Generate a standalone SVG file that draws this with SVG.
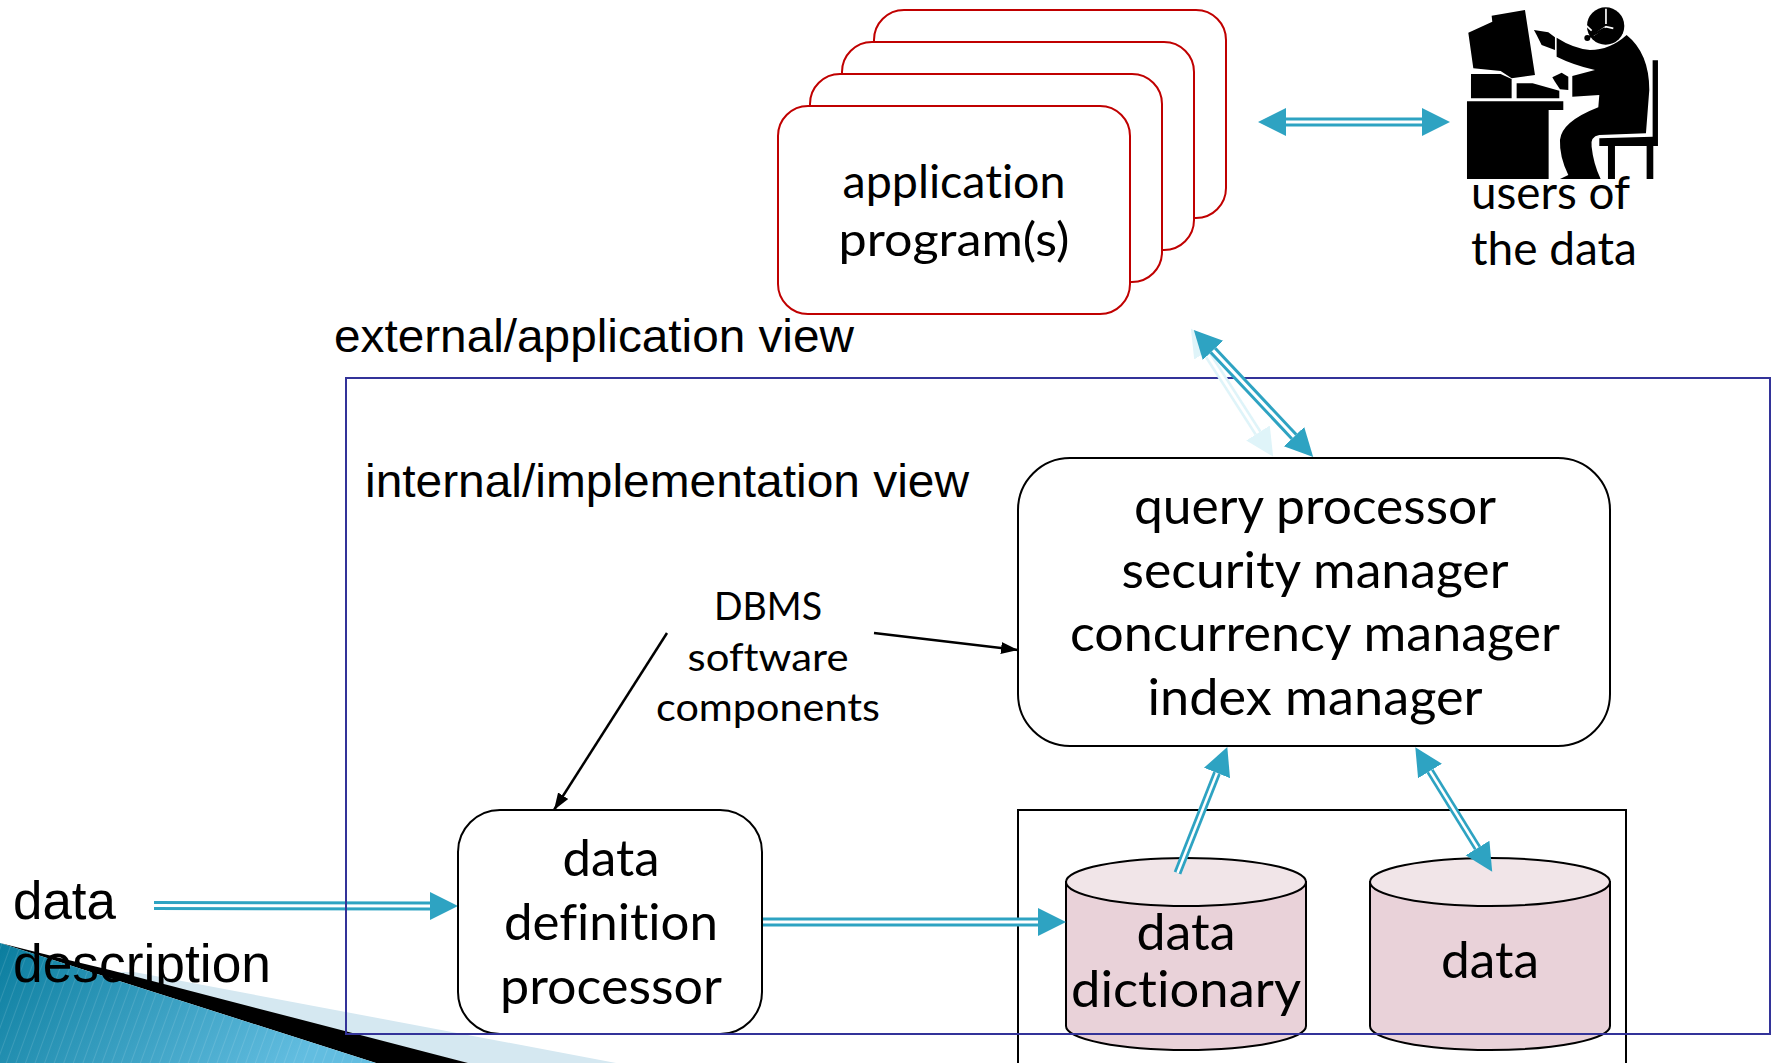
<svg xmlns="http://www.w3.org/2000/svg" width="1773" height="1063" viewBox="0 0 1773 1063">
<style>
text{font-variant-ligatures:none}
.t{font-family:"Lato","Open Sans",sans-serif;fill:#000;text-anchor:middle}
.s{font-family:"Liberation Sans",Arial,sans-serif;fill:#000}
.red{fill:#fff;stroke:#c00000;stroke-width:2}
.box{fill:#fff;stroke:#000;stroke-width:2}
.a{fill:none;stroke:#2ea3c2;stroke-width:9;marker-end:url(#h)}
.a2{marker-start:url(#h)}
.b{fill:none;stroke:#fff;stroke-width:3}
.thin{stroke-width:8}
.thinb{stroke-width:2.5}
.f{fill:#000}
</style>
<defs>
<marker id="h" markerUnits="userSpaceOnUse" markerWidth="30" markerHeight="30" viewBox="0 0 30 30" refX="0" refY="15" orient="auto-start-reverse"><path d="M0,1 L28,15 L0,29 Z" fill="#2ea3c2"/></marker>
<marker id="hf" markerUnits="userSpaceOnUse" markerWidth="30" markerHeight="30" viewBox="0 0 30 30" refX="0" refY="15" orient="auto-start-reverse"><path d="M0,1 L28,15 L0,29 Z" fill="#dff4f9"/></marker>
<marker id="k" markerUnits="userSpaceOnUse" markerWidth="18" markerHeight="14" viewBox="0 0 18 14" refX="17" refY="7" orient="auto"><path d="M0,1 L17,7 L0,13 Z" fill="#000"/></marker>
<linearGradient id="wg" x1="0" y1="0" x2="1" y2="0.3"><stop offset="0" stop-color="#0a7d9e"/><stop offset="1" stop-color="#62bde0"/></linearGradient>
<pattern id="st" width="9" height="9" patternUnits="userSpaceOnUse" patternTransform="rotate(20)"><rect width="1" height="9" fill="#ffffff" opacity=".12"/></pattern>
</defs>

<g id="background">
<path d="M90,972 L134,972 L616,1063 L468,1063 Z" fill="#d5e8f1"/>
<path d="M0,943 L60,958 L110,970 L468,1063 L376,1063 Z" fill="#000"/>
<path d="M0,943 L376,1063 L0,1063 Z" fill="url(#wg)"/>
<path d="M0,943 L376,1063 L0,1063 Z" fill="url(#st)"/>
</g>

<g id="apps">
<rect class="red" x="874" y="10" width="352" height="208" rx="30"/>
<rect class="red" x="842" y="42" width="352" height="208" rx="30"/>
<rect class="red" x="810" y="74" width="352" height="208" rx="30"/>
<rect class="red" x="778" y="106" width="352" height="208" rx="30"/>
<text class="t" font-size="47" x="954" y="198" textLength="223" lengthAdjust="spacingAndGlyphs">application</text>
<text class="t" font-size="47" x="954" y="256" textLength="231" lengthAdjust="spacingAndGlyphs">program(s)</text>
</g>

<g id="user">
<g transform="translate(1240 0) scale(.3333)">
<path class="f" d="M755,47 L855,30 L885,225 L815,235 L782,213 L700,205 L685,98 L757,65 Z"/>
<path class="f" d="M693,222 L782,222 L815,237 L815,295 L693,295 Z"/>
<path class="f" d="M830,250 L878,250 L958,272 L958,295 L830,295 Z"/>
<path class="f" d="M681,304 L970,304 L970,330 L926,330 L926,537 L681,537 Z"/>
<path class="f" d="M882,90 L925,97 L945,112 L945,150 L905,135 L890,105 Z"/>
<path class="f" d="M937,232 L965,218 L985,230 L985,270 L960,268 L945,245 Z"/>
<path class="f" d="M950,113 Q1000,145 1050,150 Q1110,150 1160,105 Q1228,160 1228,270 L1218,400 L1078,405 Q1050,410 1055,440 Q1060,490 1082,537 L960,537 L985,525 Q958,470 960,420 Q965,365 1075,322 L1078,285 L997,290 L997,228 L1065,210 Q1000,195 950,170 Z"/>
<path class="f" d="M1238,181 L1254,181 L1254,438 L1078,438 L1078,415 L1238,410 Z"/>
<path class="f" d="M1104,438 L1125,438 L1125,537 L1104,537 Z M1220,438 L1240,438 L1240,537 L1220,537 Z"/>
<circle class="f" cx="1097" cy="78" r="56"/>
<path d="M1098,26 L1098,72 M1120,85 L1098,80 L1060,106 M1032,70 L1055,92" stroke="#fff" stroke-width="5" fill="none"/>
<circle class="f" cx="1042" cy="114" r="9"/>
<path d="M1042,114 L1095,85" stroke="#000" stroke-width="7"/>
</g>
<text class="t" style="text-anchor:start" font-size="47" x="1471" y="209" textLength="159" lengthAdjust="spacingAndGlyphs">users of</text>
<text class="t" style="text-anchor:start" font-size="47" x="1471" y="265" textLength="166" lengthAdjust="spacingAndGlyphs">the data</text>
</g>

<g id="label-description">
<text class="s" font-size="53" x="13" y="919" textLength="103" lengthAdjust="spacingAndGlyphs">data</text>
<text class="s" font-size="53" x="13" y="982" textLength="258" lengthAdjust="spacingAndGlyphs">description</text>
</g>
<text class="s" font-size="47" x="334" y="352" textLength="520" lengthAdjust="spacingAndGlyphs">external/application view</text>

<g id="connector-description">
<path class="a" d="M154,905.500 L430,906"/>
<path class="b" d="M154,905.500 L430,906"/>
</g>

<g id="store"><rect x="1018" y="810" width="608" height="270" fill="none" stroke="#000" stroke-width="2"/></g>

<g id="ddp">
<rect class="box" x="458" y="810" width="304" height="224" rx="42"/>
<text class="t" font-size="50" x="611" y="876" textLength="97" lengthAdjust="spacingAndGlyphs">data</text>
<text class="t" font-size="50" x="611" y="940" textLength="214" lengthAdjust="spacingAndGlyphs">definition</text>
<text class="t" font-size="50" x="611" y="1004" textLength="222" lengthAdjust="spacingAndGlyphs">processor</text>
</g>

<g id="query">
<rect class="box" x="1018" y="458" width="592" height="288" rx="52"/>
<text class="t" font-size="50" x="1315" y="524" textLength="362" lengthAdjust="spacingAndGlyphs">query processor</text>
<text class="t" font-size="50" x="1315" y="588" textLength="387" lengthAdjust="spacingAndGlyphs">security manager</text>
<text class="t" font-size="50" x="1315" y="651" textLength="490" lengthAdjust="spacingAndGlyphs">concurrency manager</text>
<text class="t" font-size="50" x="1315" y="715" textLength="335" lengthAdjust="spacingAndGlyphs">index manager</text>
</g>

<g id="dict">
<path d="M1066,882 V1026 A120,24 0 0 0 1306,1026 V882 Z" fill="#e9d2d9" stroke="#000" stroke-width="2"/>
<ellipse cx="1186" cy="882" rx="120" ry="24" fill="#f1e5e8" stroke="#000" stroke-width="2"/>
<text class="t" font-size="50" x="1186" y="950" textLength="99" lengthAdjust="spacingAndGlyphs">data</text>
<text class="t" font-size="50" x="1186" y="1007" textLength="230" lengthAdjust="spacingAndGlyphs">dictionary</text>
</g>
<g id="data">
<path d="M1370,882 V1026 A120,24 0 0 0 1610,1026 V882 Z" fill="#e9d2d9" stroke="#000" stroke-width="2"/>
<ellipse cx="1490" cy="882" rx="120" ry="24" fill="#f1e5e8" stroke="#000" stroke-width="2"/>
<text class="t" font-size="50" x="1490" y="978" textLength="98" lengthAdjust="spacingAndGlyphs">data</text>
</g>

<g id="internal">
<rect x="346" y="378" width="1424" height="656" fill="none" stroke="#333399" stroke-width="2"/>
<text class="s" font-size="47" x="365" y="497" textLength="604" lengthAdjust="spacingAndGlyphs">internal/implementation view</text>
</g>

<g id="dbms">
<text class="t" font-size="39" x="768" y="620" textLength="108" lengthAdjust="spacingAndGlyphs">DBMS</text>
<text class="t" font-size="39" x="768" y="671" textLength="161" lengthAdjust="spacingAndGlyphs">software</text>
<text class="t" font-size="39" x="768" y="721" textLength="224" lengthAdjust="spacingAndGlyphs">components</text>
</g>

<g id="connectors">
<path d="M667,633 L554,810" stroke="#000" stroke-width="2.500" fill="none" marker-end="url(#k)"/>
<path d="M874,633 L1018,650" stroke="#000" stroke-width="2.500" fill="none" marker-end="url(#k)"/>

<path d="M1206,352 L1258,433" stroke="#dff4f9" stroke-width="8" fill="none" marker-start="url(#hf)" marker-end="url(#hf)"/>
<path d="M1206,352 L1258,433" stroke="#fff" stroke-width="3" fill="none"/>

<path class="a a2" d="M1286,122 L1422,122"/><path class="b" d="M1286,122 L1422,122"/>
<path class="a a2" d="M1213,350.400 L1294,436.600"/><path class="b" d="M1213,350.400 L1294,436.600"/>
<path class="a" d="M763,922 L1038,922"/><path class="b" d="M763,922 L1038,922"/>
<path class="a thin" d="M1177.500,873 L1217,773"/><path class="b thinb" d="M1177.500,873 L1217,773"/>
<path class="a a2 thin" d="M1430,771 L1477.500,848"/><path class="b thinb" d="M1430,771 L1477.500,848"/>
</g>
</svg>
